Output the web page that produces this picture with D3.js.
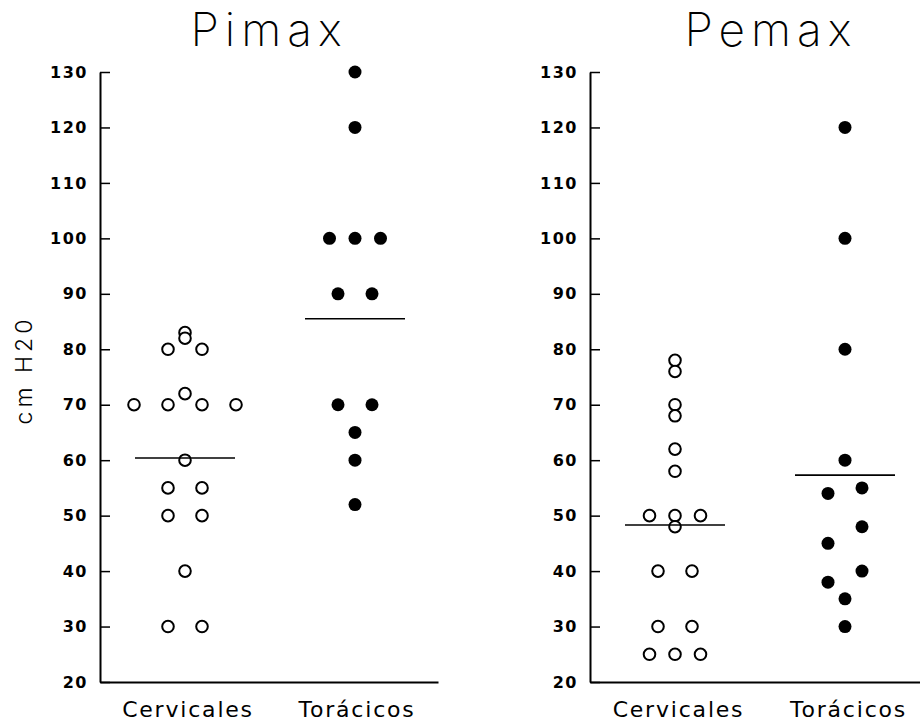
<!DOCTYPE html>
<html>
<head>
<meta charset="utf-8">
<script src="https://cdn.jsdelivr.net/npm/d3@7"></script>
<style>
  body { margin: 0; background: #fff; }
</style>
</head>
<body>
<script>
// data
var categories = ["Cervicales", "Torácicos"];
var yTicks = [20, 30, 40, 50, 60, 70, 80, 90, 100, 110, 120, 130];

// Pimax
var pimaxCervVals = [83, 82, 80, 80, 72, 70, 70, 70, 70, 60, 55, 55, 50, 50, 40, 30, 30];
var pimaxCervSlot = [0, 0, -2, 2, 0, -6, -2, 2, 6, 0, -2, 2, -2, 2, 0, -2, 2];
var pimaxTorVals = [130, 120, 100, 100, 100, 90, 90, 70, 70, 65, 60, 52];
var pimaxTorSlot = [0, 0, -3, 0, 3, -2, 2, -2, 2, 0, 0, 0];
var pimaxMeans = [60.4, 85.5];

// Pemax
var pemaxCervVals = [78, 76, 70, 68, 62, 58, 50, 50, 50, 48, 40, 40, 30, 30, 25, 25, 25];
var pemaxCervSlot = [0, 0, 0, 0, 0, 0, -3, 0, 3, 0, -2, 2, -2, 2, -3, 0, 3];
var pemaxTorVals = [120, 100, 80, 60, 55, 54, 48, 45, 40, 38, 35, 30];
var pemaxTorSlot = [0, 0, 0, 0, 2, -2, 2, -2, 2, -2, 0, 0];
var pemaxMeans = [48.3, 57.3];

var width = 920;
var height = 724;

var svg = d3.select("body")
            .append("svg")
            .attr("width", width)
            .attr("height", height);

var yScale = d3.scaleLinear()
               .domain([20, 130])
               .range([682, 72]);

var xScale = d3.scalePoint()
               .domain(categories)
               .range([0, 340])
               .padding(0.5);

var slotScale = d3.scaleLinear()
                  .domain([-6, 6])
                  .range([-51, 51]);

function pairs(vals, slots) {
  return vals.map(function(v, i){ return {value: v, slot: slots[i]}; });
}

var panels = [
  {title: "Pimax", left: 100, titleX: 169, showYLabel: true,
   groups: [pairs(pimaxCervVals, pimaxCervSlot), pairs(pimaxTorVals, pimaxTorSlot)],
   means: pimaxMeans, axisLen: 338},
  {title: "Pemax", left: 590, titleX: 181, showYLabel: false,
   groups: [pairs(pemaxCervVals, pemaxCervSlot), pairs(pemaxTorVals, pemaxTorSlot)],
   means: pemaxMeans, axisLen: 340}
];

panels.forEach(function(p){
  var g = svg.append("g").attr("transform", "translate(" + p.left + ",0)");

  // y axis, ticks pointing inward
  var yAxis = d3.axisLeft(yScale)
                .tickValues(yTicks)
                .tickSizeInner(-10)
                .tickSizeOuter(0)
                .tickPadding(12);
  var ya = g.append("g").call(yAxis);
  ya.select(".domain").attr("stroke-width", 2);
  ya.selectAll(".tick line").attr("stroke-width", 1.5);
  ya.selectAll(".tick text")
    .attr("font-family", "'DejaVu Sans', sans-serif")
    .attr("font-size", 16)
    .attr("font-weight", "bold")
    .style("letter-spacing", "1.5px")
    .attr("fill", "#000");

  // x axis, no tick marks
  var xAxis = d3.axisBottom(xScale.copy().range([0, p.axisLen]).padding(0.5))
                .tickSize(0)
                .tickPadding(19.5);
  var xa = g.append("g")
            .attr("transform", "translate(0," + yScale(20) + ")")
            .call(xAxis);
  xa.select(".domain").attr("stroke-width", 2);
  xa.selectAll(".tick text")
    .attr("dx", 3)
    .attr("font-family", "'DejaVu Sans', sans-serif")
    .attr("font-size", 22)
    .style("letter-spacing", "1.8px")
    .attr("fill", "#000");

  // points
  p.groups.forEach(function(pts, ci){
    var cx = xScale(categories[ci]);
    var filled = ci === 1;
    g.selectAll(".pt" + ci)
      .data(pts)
      .enter()
        .append("circle")
        .attr("class", "pt" + ci)
        .attr("cx", function(d){ return cx + slotScale(d.slot); })
        .attr("cy", function(d){ return yScale(d.value); })
        .attr("r", filled ? 6.5 : 5.8)
        .attr("fill", filled ? "#000" : "#fff")
        .attr("stroke", "#000")
        .attr("stroke-width", filled ? 0 : 2);
  });

  // mean lines
  g.selectAll(".mean")
    .data(p.means)
    .enter()
      .append("line")
      .attr("class", "mean")
      .attr("x1", function(d, i){ return xScale(categories[i]) - 50; })
      .attr("x2", function(d, i){ return xScale(categories[i]) + 50; })
      .attr("y1", function(d){ return yScale(d); })
      .attr("y2", function(d){ return yScale(d); })
      .attr("stroke", "#000")
      .attr("stroke-width", 1.6);

  // panel title
  g.append("text")
    .attr("x", p.titleX)
    .attr("y", 46)
    .attr("text-anchor", "middle")
    .attr("font-family", "Inter, 'DejaVu Sans', sans-serif")
    .attr("font-weight", 200)
    .attr("font-size", 46)
    .style("letter-spacing", "6px")
    .text(p.title);

  if (p.showYLabel) {
    g.append("text")
      .attr("transform", "translate(-68," + 370 + ") rotate(-90)")
      .attr("text-anchor", "middle")
      .attr("font-family", "Inter, 'DejaVu Sans', sans-serif")
      .attr("font-weight", 300)
      .attr("font-size", 23)
      .style("letter-spacing", "4px")
      .text("cm H20");
  }
});
</script>
</body>
</html>
